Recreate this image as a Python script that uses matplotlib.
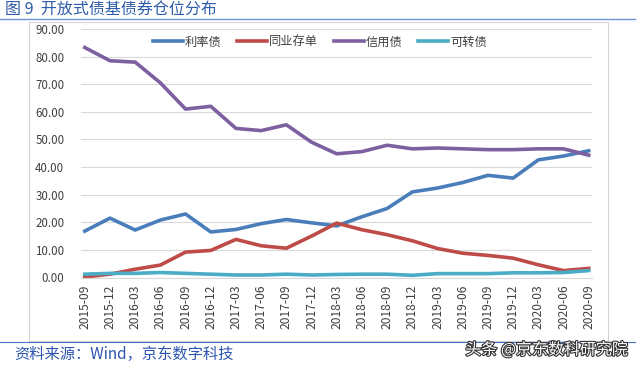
import matplotlib.pyplot as plt
import matplotlib.patheffects as pe
import numpy as np

plt.rcParams['font.family'] = ['Noto Sans CJK SC', 'DejaVu Sans']

dates = ['2015-09', '2015-12', '2016-03', '2016-06', '2016-09', '2016-12',
         '2017-03', '2017-06', '2017-09', '2017-12', '2018-03', '2018-06',
         '2018-09', '2018-12', '2019-03', '2019-06', '2019-09', '2019-12',
         '2020-03', '2020-06', '2020-09']
rate_bond = [16.8, 21.5, 17.2, 20.8, 23.0, 16.5, 17.4, 19.5, 21.0, 19.8, 18.7,
             22.0, 25.0, 31.0, 32.4, 34.4, 37.0, 36.0, 42.6, 44.0, 45.9]
ncd = [0.2, 1.2, 3.0, 4.5, 9.2, 9.8, 13.8, 11.5, 10.6, 15.0, 19.7,
       17.3, 15.5, 13.3, 10.5, 8.8, 8.0, 7.0, 4.6, 2.5, 3.3]
credit = [83.3, 78.5, 78.0, 70.5, 61.0, 62.0, 54.0, 53.2, 55.3, 49.0, 44.8,
          45.6, 47.9, 46.6, 46.9, 46.6, 46.3, 46.3, 46.6, 46.6, 44.3]
convert = [1.2, 1.5, 1.5, 1.8, 1.5, 1.2, 0.9, 0.9, 1.2, 0.9, 1.1,
           1.2, 1.2, 0.8, 1.4, 1.4, 1.4, 1.7, 1.7, 1.8, 2.5]
names = ['利率债', '同业存单', '信用债', '可转债']
colors = ['#4a7ebb', '#be4b48', '#7d60a0', '#4bacc6']

W, H = 640, 368
fig = plt.figure(figsize=(W / 100, H / 100), dpi=100)

# chart frame
fig.patches.append(plt.Rectangle((29 / W, 1 - 341 / H), 579 / W, 319 / H,
                                 transform=fig.transFigure, fill=False,
                                 edgecolor='#d9d0d3', lw=0.8))

ax = fig.add_axes([81 / W, 1 - 277.5 / H, 511 / W, 248.5 / H])
x = np.arange(len(dates))
for s, c, n in zip([rate_bond, ncd, credit, convert], colors, names):
    ax.plot(x, s, color=c, lw=2.6, label=n, solid_joinstyle='round')

ax.set_xlim(-0.15, 20.13)
ax.set_ylim(0, 90)
ax.set_yticks(np.arange(0, 91, 10))
ax.set_yticklabels([f'{v:.2f}' for v in range(0, 91, 10)], fontsize=8.3, color='#404040')
ax.set_xticks(x)
ax.set_xticklabels(dates, rotation=90, fontsize=8.7, color='#404040')
ax.tick_params(axis='y', length=0, pad=12)
ax.tick_params(axis='x', length=0, pad=5)
ax.grid(axis='y', color='#d9d9d9', lw=0.8)
ax.set_axisbelow(True)
for sp in ['top', 'right', 'left']:
    ax.spines[sp].set_visible(False)
ax.spines['bottom'].set_color('#d9d9d9')

leg = ax.legend(loc='center', bbox_to_anchor=(320 / W, 1 - 42 / H),
                bbox_transform=fig.transFigure, ncol=4, frameon=False,
                fontsize=8.8, handlelength=2.45, columnspacing=1.3, handletextpad=0.15)
for t in leg.get_texts():
    t.set_color('#404040')

# title and footer
fig.text(5 / W, 1 - 10 / H, '图 9  开放式债基债券仓位分布', fontsize=11.5,
         color='#2e5ca8', va='center', ha='left')
fig.add_artist(plt.Line2D([0, 635 / W], [1 - 18.5 / H, 1 - 18.5 / H], color='#6f93d8', lw=1.0))
fig.add_artist(plt.Line2D([0, 635 / W], [1 - 342 / H, 1 - 342 / H], color='#4472c4', lw=0.8))
fig.text(14 / W, 1 - 354 / H, '资料来源：Wind，京东数字科技', fontsize=11,
         color='#2b55b0', style='italic', va='center', ha='left')
fig.text(628 / W, 1 - 350 / H, '头条 @京东数科研究院', fontsize=11.5,
         color='white', va='center', ha='right',
         path_effects=[pe.withStroke(linewidth=1.6, foreground='#333333')])

fig.savefig('out.png', dpi=100)
